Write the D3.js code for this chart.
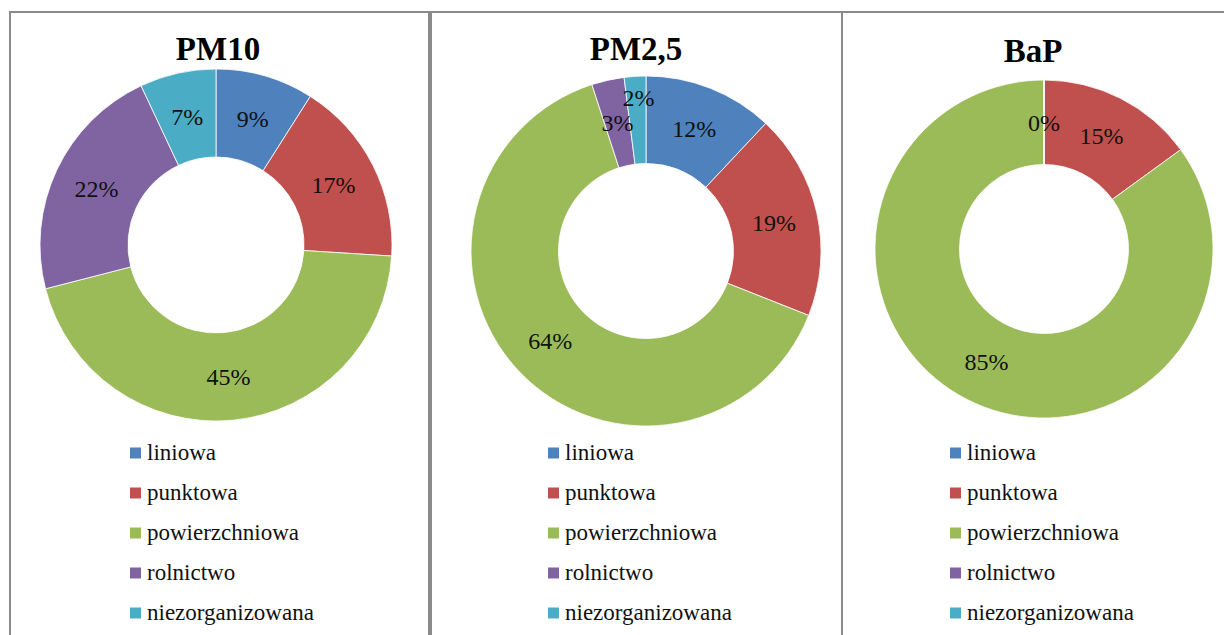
<!DOCTYPE html>
<html>
<head>
<meta charset="utf-8">
<script src="https://cdn.jsdelivr.net/npm/d3@7"></script>
<style>
  html, body { margin: 0; padding: 0; background: #fff; }
  svg { display: block; }
  text { font-family: "Liberation Serif", "Times New Roman", serif; }
</style>
</head>
<body>
<svg id="chart" width="1224" height="635"></svg>
<script>
// Emission source categories (legend order)
const categories = ["liniowa", "punktowa", "powierzchniowa", "rolnictwo", "niezorganizowana"];

// Pollutant names (panel titles)
const pollutants = ["PM10", "PM2,5", "BaP"];

// Share of each source category, in percent
const pm10Values = [9, 17, 45, 22, 7];
const pm25Values = [12, 19, 64, 3, 2];
const bapValues  = [0, 15, 85, 0, 0];

const seriesValues = [pm10Values, pm25Values, bapValues];

const colors = ["#4F81BD", "#C0504D", "#9BBB59", "#8064A2", "#4BACC6"];

// Panel geometry
const panels = [
  { x0: 10,  x1: 429,  cx: 216,  cy: 245, r: 176, titleX: 218,  titleY: 60 },
  { x0: 431, x1: 842,  cx: 646,  cy: 251, r: 175, titleX: 636,  titleY: 60 },
  { x0: 842, x1: 1240, cx: 1044, cy: 249, r: 169, titleX: 1033, titleY: 62 }
];
const legendOffsets = [130, 548, 950];

const svg = d3.select("#chart");
const color = d3.scaleOrdinal().domain(categories).range(colors);

// Panel frames
const frame = svg.append("g").attr("fill", "none").attr("stroke", "#8a8a8a").attr("stroke-width", 2);
panels.forEach(p => {
  frame.append("rect").attr("x", p.x0).attr("y", 12).attr("width", p.x1 - p.x0).attr("height", 640);
});

const pie = d3.pie().sort(null).value(d => d.value);

seriesValues.forEach((vals, pi) => {
  const p = panels[pi];
  const data = categories.map((c, i) => ({ category: c, value: vals[i] }));
  const arcs = pie(data);
  const inner = p.r * 0.5;
  const arc = d3.arc().innerRadius(inner).outerRadius(p.r);
  const mid = (inner + p.r) / 2;

  const g = svg.append("g").attr("transform", `translate(${p.cx},${p.cy})`);

  g.selectAll("path")
    .data(arcs)
    .join("path")
    .attr("d", arc)
    .attr("fill", d => color(d.data.category))
    .attr("stroke", "#fff")
    .attr("stroke-width", 0.8);

  // Data labels at the ring's mid radius; a label that would collide with
  // the previous one is pushed outward along its own angle.
  let prev = null;
  arcs.forEach((d, i) => {
    if (d.data.value === 0 && i > 0) return;
    const a = (d.startAngle + d.endAngle) / 2;
    let rad = mid;
    let x = Math.sin(a) * rad, y = -Math.cos(a) * rad;
    if (prev && Math.abs(x - prev.x) < 34 && Math.abs(y - prev.y) < 26) {
      rad = mid + 22;
      x = Math.sin(a) * rad + 2;
      y = -Math.cos(a) * rad;
    }
    g.append("text")
      .attr("x", x)
      .attr("y", y)
      .attr("dy", "0.35em")
      .attr("text-anchor", "middle")
      .attr("font-size", 24)
      .attr("fill", "#111")
      .text(d.data.value + "%");
    prev = { x, y };
  });

  // Title
  svg.append("text")
    .attr("x", p.titleX)
    .attr("y", p.titleY)
    .attr("text-anchor", "middle")
    .attr("font-size", 33)
    .attr("font-weight", "bold")
    .attr("fill", "#000")
    .text(pollutants[pi]);

  // Legend
  const y = d3.scalePoint().domain(categories).range([453, 613]);
  const lg = svg.append("g").attr("transform", `translate(${legendOffsets[pi]},0)`);
  const items = lg.selectAll("g").data(categories).join("g")
    .attr("transform", c => `translate(0,${y(c)})`);
  items.append("rect")
    .attr("x", 0).attr("y", -5.5).attr("width", 11).attr("height", 11)
    .attr("fill", c => color(c));
  items.append("text")
    .attr("x", 17).attr("y", 0).attr("dy", "0.32em")
    .attr("font-size", 23)
    .attr("fill", "#111")
    .text(c => c);
});
</script>
</body>
</html>
